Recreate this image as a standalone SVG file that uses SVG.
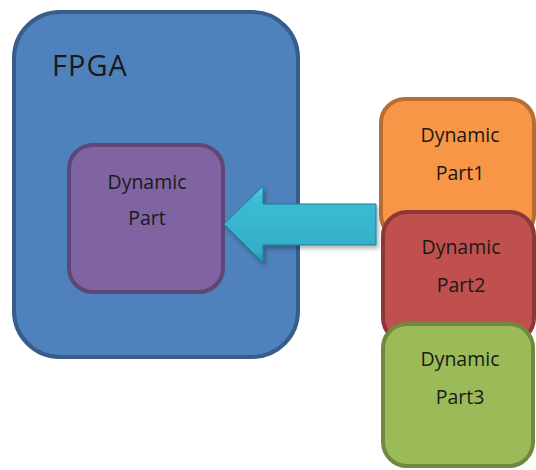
<svg xmlns="http://www.w3.org/2000/svg" width="536" height="470" viewBox="0 0 536 470">
<style>
.box{stroke-width:4}
.t{font-family:"Open Sans","Liberation Sans",sans-serif;font-size:19.5px;fill:#1a1a1a;text-anchor:middle}
.big{font-family:"Open Sans","Liberation Sans",sans-serif;font-size:29px;fill:#1a1a1a;letter-spacing:1px}
</style>
<defs>
<linearGradient id="ag" x1="0" y1="0" x2="0" y2="1">
<stop offset="0" stop-color="#5fd3ea"/>
<stop offset="0.15" stop-color="#3cbcd6"/>
<stop offset="0.85" stop-color="#33aec8"/>
<stop offset="1" stop-color="#1f8ea6"/>
</linearGradient>
<filter id="sh" x="-10%" y="-10%" width="130%" height="130%">
<feDropShadow dx="2" dy="3" stdDeviation="2" flood-color="#000" flood-opacity="0.3"/>
</filter>
</defs>
<g id="fpga">
<rect class="box" x="14" y="12" width="284" height="345" rx="46" fill="#4f81bd" stroke="#385d8a"/>
<text class="big" x="52" y="76">FPGA</text>
</g>
<g id="dynamic-part">
<rect class="box" x="69" y="145" width="154" height="147" rx="24" fill="#8064a2" stroke="#5c4776"/>
<text class="t" x="147" y="189">Dynamic</text>
<text class="t" x="147" y="225">Part</text>
</g>
<g id="connectors">
<path d="M224,224 L263,186 L263,204 L376,204 L376,245 L263,245 L263,263 Z" fill="url(#ag)" stroke="#1d7f95" stroke-width="1" filter="url(#sh)"/>
</g>
<g id="part1">
<rect class="box" x="381" y="99" width="153" height="140" rx="24" fill="#f79646" stroke="#b66d31"/>
<text class="t" x="460" y="142">Dynamic</text>
<text class="t" x="460" y="180">Part1</text>
</g>
<g id="part2">
<rect class="box" x="383" y="212" width="151" height="130" rx="24" fill="#c0504d" stroke="#8c3836"/>
<text class="t" x="461" y="254">Dynamic</text>
<text class="t" x="461" y="292">Part2</text>
</g>
<g id="part3">
<rect class="box" x="383" y="324" width="150" height="142" rx="24" fill="#9bbb59" stroke="#71893f"/>
<text class="t" x="460" y="366">Dynamic</text>
<text class="t" x="460" y="404">Part3</text>
</g>
</svg>
